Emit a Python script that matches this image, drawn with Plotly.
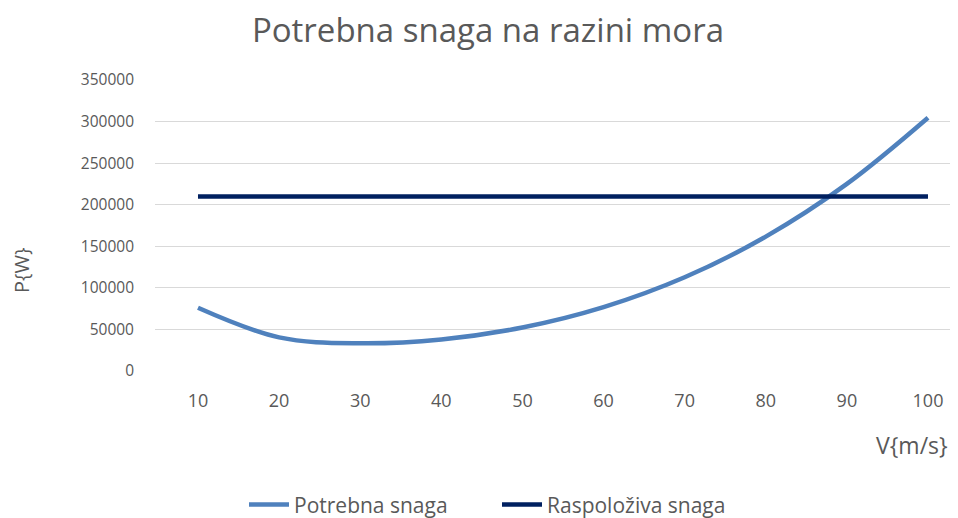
import plotly.graph_objects as go

# brzine [m/s]
brzina = [10, 20, 30, 40, 50, 60, 70, 80, 90, 100]
# potrebna snaga [W] na razini mora
potrebna_snaga = [76000, 40400, 33400, 38000, 52300, 76800, 112700, 161600, 225000, 304600]
# raspoloziva snaga [W]
raspoloziva_snaga = [210000] * len(brzina)

y_ticks = [0, 50000, 100000, 150000, 200000, 250000, 300000, 350000]
y_labels = [str(v) for v in y_ticks]

font = "Open Sans"
grey = "#595959"

fig = go.Figure()
fig.add_trace(go.Scatter(x=brzina, y=potrebna_snaga, mode="lines", name="Potrebna snaga",
                         line=dict(color="#4F81BD", width=4.5, shape="spline", smoothing=1.0)))
fig.add_trace(go.Scatter(x=brzina, y=raspoloziva_snaga, mode="lines", name="Raspoloživa snaga",
                         line=dict(color="#002060", width=4.5)))

# the page body has an 8px margin, so figure coords = screen coords - 8
fig.update_layout(
    width=958, height=518,
    margin=dict(l=147, r=8, t=72, b=155, autoexpand=False),
    paper_bgcolor="white", plot_bgcolor="white",
    font=dict(family=font, color=grey, size=15),
    title=dict(text="Potrebna snaga na razini mora", x=0.501, xanchor="center", y=0.957, yanchor="middle",
               font=dict(size=33, color=grey, family=font)),
    showlegend=True,
    legend=dict(orientation="h", x=(244 - 155) / 803, xanchor="left", y=-0.46, yanchor="middle",
                font=dict(size=21, color=grey), itemwidth=40,
                entrywidth=198, entrywidthmode="pixels"),
)
fig.update_xaxes(range=[4.7, 103.7], tickvals=brzina, showgrid=False, zeroline=False, showline=False,
                 ticks="", ticklabelstandoff=17, tickfont=dict(size=18, color=grey))
fig.update_yaxes(range=[0, 350000], tickvals=y_ticks, ticktext=y_labels, showgrid=True,
                 gridcolor="#D9D9D9", gridwidth=1, zeroline=False, showline=False, ticks="",
                 ticklabelstandoff=20, tickfont=dict(size=15.5, color=grey))

fig.add_annotation(text="P{W}", xref="paper", yref="paper", x=(21 - 155) / 803, y=(371 - 270) / 291,
                   showarrow=False, textangle=-90, font=dict(size=20, color=grey),
                   xanchor="center", yanchor="middle")
fig.add_annotation(text="V{m/s}", xref="paper", yref="paper", x=(912 - 155) / 803, y=(371 - 445) / 291,
                   showarrow=False, font=dict(size=23, color=grey),
                   xanchor="center", yanchor="middle")

fig.write_html("out.html")
